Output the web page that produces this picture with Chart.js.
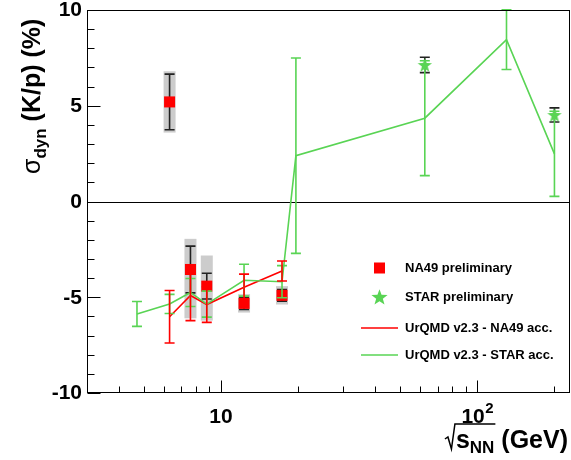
<!DOCTYPE html>
<html><head><meta charset="utf-8">
<script src="https://cdn.jsdelivr.net/npm/chart.js@4"></script>
<style>html,body{margin:0;padding:0;background:#fff;overflow:hidden}canvas{display:block}</style>
</head><body>
<canvas id="c" width="571" height="460"></canvas>
<script>
// ---- data ----
const na49Energy   = [6.3, 7.6, 8.8, 12.3, 17.3];
const na49Value    = [5.2, -3.55, -4.42, -5.32, -4.9];
const na49Stat     = [1.45, 1.22, 0.67, 0.32, 0.3];
const na49SysUp    = [1.6, 1.6, 1.6, 0.48, 0.48];
const na49SysDown  = [1.6, 2.55, 1.8, 0.48, 0.48];

const starEnergy   = [62.4, 200];
const starValue    = [7.13, 4.52];
const starStat     = [0.4, 0.37];

const urqmdNA49Energy = [6.3, 7.6, 8.8, 12.3, 17.3];
const urqmdNA49Value  = [-6.02, -4.91, -5.38, -4.48, -3.63];
const urqmdNA49Err    = [1.37, 1.31, 0.93, 0.69, 0.52];

const urqmdSTAREnergy = [4.7, 6.3, 7.6, 8.8, 12.3, 17.3, 19.6, 62.4, 130, 200];
const urqmdSTARValue  = [-5.87, -5.35, -4.75, -5.36, -4.11, -4.19, 2.39, 4.35, 8.45, 2.49];
const urqmdSTARErr    = [0.65, 0.5, 0.73, 0.68, 0.83, 0.84, 5.1, 3.0, 1.56, 2.22];

const yMajorTicks = [-10, -5, 0, 5, 10];
const yMinorTicks = [-9,-8,-7,-6,-4,-3,-2,-1,1,2,3,4,6,7,8,9];
const xMajorTicks = [10, 100];
const xMinorTicks = [4,5,6,7,8,9,20,30,40,50,60,70,80,90,200];
const legendLabels = ['NA49 preliminary', 'STAR preliminary', 'UrQMD v2.3 - NA49 acc.', 'UrQMD v2.3 - STAR acc.'];

const RED = '#ff0000';
const GREEN = 'rgb(89,212,84)';
const FONT = '"Liberation Sans", Arial, Helvetica, sans-serif';

function starPath(ctx, cx, cy, R, r) {
  ctx.beginPath();
  for (let i = 0; i < 10; i++) {
    const rad = i % 2 === 0 ? R : r;
    const a = -Math.PI / 2 + i * Math.PI / 5;
    const px = cx + rad * Math.cos(a), py = cy + rad * Math.sin(a);
    if (i === 0) ctx.moveTo(px, py); else ctx.lineTo(px, py);
  }
  ctx.closePath();
}
const starImg = document.createElement('canvas');
starImg.width = 16; starImg.height = 16;
(function(){ const c = starImg.getContext('2d'); c.fillStyle = GREEN; starPath(c, 8, 8.6, 7.5, 3.1); c.fill(); })();

const pts = (xs, ys) => xs.map((x, i) => ({x, y: ys[i]}));

function errBar(ctx, xp, y1, y2, cap) {
  ctx.beginPath();
  ctx.moveTo(xp, y1); ctx.lineTo(xp, y2);
  ctx.moveTo(xp - cap, y1); ctx.lineTo(xp + cap, y1);
  ctx.moveTo(xp - cap, y2); ctx.lineTo(xp + cap, y2);
  ctx.stroke();
}

const decor = {
  id: 'decor',
  beforeDatasetsDraw(chart) {
    const {ctx, chartArea: a, scales: {x, y}} = chart;
    ctx.save();
    ctx.beginPath(); ctx.rect(a.left, a.top, a.right - a.left, a.bottom - a.top); ctx.clip();
    // zero line
    ctx.strokeStyle = '#000'; ctx.lineWidth = 1;
    const y0 = Math.round(y.getPixelForValue(0)) + 0.5;
    ctx.beginPath(); ctx.moveTo(a.left, y0); ctx.lineTo(a.right, y0); ctx.stroke();
    // systematic boxes
    ctx.fillStyle = '#cccccc';
    na49Energy.forEach((e, i) => {
      const xp = x.getPixelForValue(e);
      const yt = y.getPixelForValue(na49Value[i] + na49SysUp[i]);
      const yb = y.getPixelForValue(na49Value[i] - na49SysDown[i]);
      ctx.fillRect(xp - 6, yt, 12, yb - yt);
    });
    // statistical errors
    ctx.strokeStyle = '#222'; ctx.lineWidth = 1.6;
    na49Energy.forEach((e, i) => {
      errBar(ctx, x.getPixelForValue(e), y.getPixelForValue(na49Value[i] + na49Stat[i]), y.getPixelForValue(na49Value[i] - na49Stat[i]), 5);
    });
    starEnergy.forEach((e, i) => {
      errBar(ctx, x.getPixelForValue(e), y.getPixelForValue(starValue[i] + starStat[i]), y.getPixelForValue(starValue[i] - starStat[i]), 5);
    });
    ctx.restore();
  },
  afterDatasetsDraw(chart) {
    const {ctx, chartArea: a, scales: {x, y}} = chart;
    ctx.save();
    ctx.beginPath(); ctx.rect(a.left, a.top - 1, a.right - a.left, a.bottom - a.top + 2); ctx.clip();
    ctx.lineWidth = 1.6;
    ctx.strokeStyle = GREEN;
    urqmdSTAREnergy.forEach((e, i) => {
      errBar(ctx, x.getPixelForValue(e), y.getPixelForValue(urqmdSTARValue[i] + urqmdSTARErr[i]), y.getPixelForValue(urqmdSTARValue[i] - urqmdSTARErr[i]), 5);
    });
    ctx.strokeStyle = RED;
    urqmdNA49Energy.forEach((e, i) => {
      errBar(ctx, x.getPixelForValue(e), y.getPixelForValue(urqmdNA49Value[i] + urqmdNA49Err[i]), y.getPixelForValue(urqmdNA49Value[i] - urqmdNA49Err[i]), 5);
    });
    ctx.restore();
  },
  afterDraw(chart) {
    const {ctx, chartArea: a, scales: {x, y}} = chart;
    ctx.save();
    // frame
    ctx.strokeStyle = '#000'; ctx.lineWidth = 1;
    ctx.strokeRect(Math.round(a.left) + 0.5, Math.round(a.top) + 0.5, Math.round(a.right - a.left) - 1, Math.round(a.bottom - a.top) - 1);
    // y ticks
    ctx.beginPath();
    const L = Math.round(a.left) + 0.5;
    yMajorTicks.forEach(v => { const p = Math.round(y.getPixelForValue(v)) + 0.5; ctx.moveTo(L, p); ctx.lineTo(L + 13, p); });
    yMinorTicks.forEach(v => { const p = Math.round(y.getPixelForValue(v)) + 0.5; ctx.moveTo(L, p); ctx.lineTo(L + 7, p); });
    // x ticks
    const B = Math.round(a.bottom) - 0.5;
    xMajorTicks.forEach(v => { const p = Math.round(x.getPixelForValue(v)) + 0.5; ctx.moveTo(p, B); ctx.lineTo(p, B - 12); });
    xMinorTicks.forEach(v => { const p = Math.round(x.getPixelForValue(v)) + 0.5; ctx.moveTo(p, B); ctx.lineTo(p, B - 6); });
    ctx.stroke();

    // y tick labels
    ctx.fillStyle = '#000';
    ctx.font = 'bold 21px ' + FONT;
    ctx.textAlign = 'right'; ctx.textBaseline = 'middle';
    yMajorTicks.forEach(v => ctx.fillText(String(v), 82, y.getPixelForValue(v) + 0.5));
    // x tick labels
    ctx.textBaseline = 'alphabetic';
    xMajorTicks.forEach(v => {
      const p = x.getPixelForValue(v);
      const exp = Math.round(Math.log10(v));
      if (exp === 1) {
        ctx.font = 'bold 21px ' + FONT; ctx.textAlign = 'center';
        ctx.fillText('10', p, 423);
      } else {
        ctx.font = 'bold 21px ' + FONT; const w1 = ctx.measureText('10').width;
        ctx.font = 'bold 15px ' + FONT; const w2 = ctx.measureText(String(exp)).width;
        const s = p - (w1 + w2) / 2;
        ctx.textAlign = 'left';
        ctx.font = 'bold 21px ' + FONT; ctx.fillText('10', s, 423);
        ctx.font = 'bold 15px ' + FONT; ctx.fillText(String(exp), s + w1 + 0.5, 413);
      }
    });

    // x title: sqrt(s_NN) (GeV)
    ctx.textAlign = 'left';
    const bx = 448;
    ctx.font = 'bold 25px ' + FONT; const ws = ctx.measureText('s').width; const wg = ctx.measureText(' (GeV)').width;
    ctx.font = 'bold 17px ' + FONT; const wn = ctx.measureText('NN').width;
    const rad = 11;
    const start = 568 - (rad + ws + wn + wg);
    ctx.lineWidth = 1.5; ctx.strokeStyle = '#000';
    ctx.beginPath();
    ctx.moveTo(start, bx - 9); ctx.lineTo(start + 3, bx - 11);
    ctx.lineTo(start + 6.5, bx + 1);
    ctx.lineTo(start + rad - 1, 424);
    ctx.lineTo(start + rad + ws + wn + 1, 424);
    ctx.stroke();
    ctx.font = 'bold 25px ' + FONT; ctx.fillText('s', start + rad, bx);
    ctx.font = 'bold 17px ' + FONT; ctx.fillText('NN', start + rad + ws, bx + 5);
    ctx.font = 'bold 25px ' + FONT; ctx.fillText(' (GeV)', start + rad + ws + wn, bx);

    // y title
    ctx.save();
    ctx.translate(40, 174);
    ctx.rotate(-Math.PI / 2);
    ctx.textAlign = 'left'; ctx.textBaseline = 'alphabetic';
    ctx.font = '25px ' + FONT; ctx.fillText('σ', 0, 0);
    let cx = ctx.measureText('σ').width;
    ctx.font = 'bold 17px ' + FONT; ctx.fillText('dyn', cx, 6);
    cx += ctx.measureText('dyn').width;
    ctx.font = 'bold 25px ' + FONT; ctx.fillText(' (K/p) (%)', cx, 0);
    ctx.restore();

    // legend
    ctx.font = 'bold 13px ' + FONT; ctx.textAlign = 'left'; ctx.textBaseline = 'middle';
    const rows = [268, 297, 328, 355];
    ctx.fillStyle = RED; ctx.fillRect(379.5 - 5.5, rows[0] - 5.5, 11, 11);
    ctx.fillStyle = GREEN; starPath(ctx, 379.5, rows[1] + 0.7, 8.5, 3.5); ctx.fill();
    ctx.lineWidth = 1.6;
    ctx.strokeStyle = RED; ctx.beginPath(); ctx.moveTo(361, rows[2]); ctx.lineTo(398, rows[2]); ctx.stroke();
    ctx.strokeStyle = GREEN; ctx.beginPath(); ctx.moveTo(361, rows[3]); ctx.lineTo(398, rows[3]); ctx.stroke();
    ctx.fillStyle = '#000';
    legendLabels.forEach((t, i) => ctx.fillText(t, 405, rows[i]));
    ctx.restore();
  }
};

new Chart(document.getElementById('c'), {
  type: 'scatter',
  data: {
    datasets: [
      { label: legendLabels[3], data: pts(urqmdSTAREnergy, urqmdSTARValue), showLine: true, borderColor: GREEN, borderWidth: 1.6, pointRadius: 0, fill: false, order: 1 },
      { label: legendLabels[2], data: pts(urqmdNA49Energy, urqmdNA49Value), showLine: true, borderColor: RED, borderWidth: 1.6, pointRadius: 0, fill: false, order: 2 },
      { label: legendLabels[1], data: pts(starEnergy, starValue), pointStyle: starImg, pointRadius: 8, order: 3 },
      { label: legendLabels[0], data: pts(na49Energy, na49Value), pointStyle: 'rect', pointRadius: 7.8, backgroundColor: RED, borderColor: RED, borderWidth: 0, order: 4 }
    ]
  },
  options: {
    responsive: false, animation: false, devicePixelRatio: 1,
    layout: { autoPadding: false, padding: { left: 87, top: 10, right: 1, bottom: 67 } },
    plugins: { legend: { display: false }, tooltip: { enabled: false } },
    scales: {
      x: { type: 'logarithmic', min: 3, max: 230, display: false },
      y: { type: 'linear', min: -10, max: 10, display: false }
    }
  },
  plugins: [decor]
});
</script>
</body></html>
